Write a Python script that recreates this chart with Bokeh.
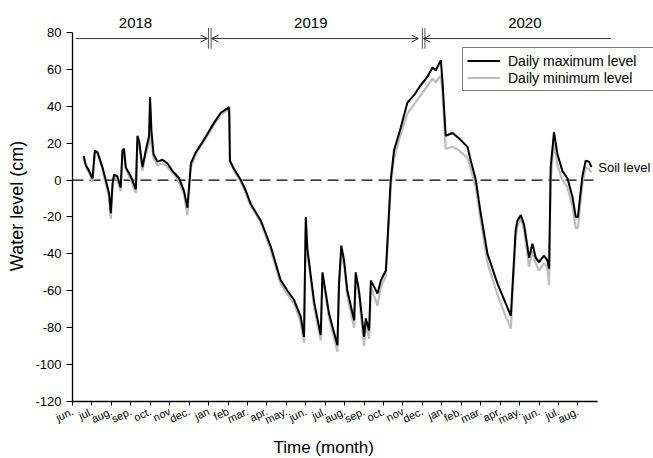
from bokeh.plotting import figure
from bokeh.models import Range1d, FixedTicker, Legend, LegendItem, Label, Arrow, OpenHead, Title
from bokeh.embed import file_html
from bokeh.resources import INLINE

# ---- data (time in months since 1 June 2018) ----
months = [0.57, 0.69, 0.85, 1.03, 1.15, 1.29, 1.54, 1.71, 1.88, 1.97, 2.06, 2.14, 2.31, 2.48,
          2.57, 2.65, 2.74, 3.0, 3.26, 3.34, 3.43, 3.6, 3.77, 3.94, 3.99, 4.06, 4.17, 4.37,
          4.63, 4.89, 5.14, 5.31, 5.48, 5.74, 5.91, 6.09, 6.34, 6.77, 7.28, 7.63, 8.06, 8.1,
          8.31, 8.66, 8.91, 9.17, 9.69, 10.2, 10.7, 11.06, 11.4, 11.74, 11.91, 12.0, 12.09,
          12.43, 12.77, 12.86, 13.2, 13.63, 13.71, 13.83, 13.97, 14.14, 14.49, 14.57, 14.74,
          15.0, 15.09, 15.26, 15.35, 15.69, 15.86, 16.12, 16.2, 16.37, 16.54, 16.89, 17.23,
          17.57, 17.92, 18.26, 18.52, 18.69, 18.95, 19.03, 19.2, 19.55, 19.89, 20.32, 20.49,
          20.75, 21.0, 21.35, 21.86, 22.29, 22.55, 22.8, 22.89, 23.06, 23.23, 23.49, 23.66,
          23.83, 24.0, 24.26, 24.43, 24.52, 24.6, 24.77, 24.95, 25.2, 25.46, 25.72, 25.89,
          26.0, 26.23, 26.4, 26.57, 26.7]

max_level = [13, 8, 5, 1, 16, 15, 7, 0, -7, -18, -2, 3, 2, -4,
             16, 17, 7, 2, -5, 24, 21, 7, 16, 24, 45, 27, 14, 10,
             11, 9, 5, 3, 1, -6, -15, 9, 15, 22, 31, 36.5, 39.5, 10.5,
             6, 0, -5.5, -13, -22, -36, -54, -60, -65, -74, -85, -20, -38,
             -66, -84, -50, -72.5, -89.5, -56, -35.5, -43.5, -60, -76, -50, -60,
             -85, -75, -81.5, -54.5, -61.5, -54.5, -49, -34, 0, 16, 28.5, 42,
             46, 51.5, 56, 61, 59.5, 65, 54, 24, 25.5, 22.5, 18, 10.5,
             0, -18, -40, -56, -67, -73.5, -27, -22, -19, -24, -42, -34.5,
             -42, -44.5, -41, -43.5, -48, 7, 26, 14, 5, 1, -9, -20,
             -20, 2, 10.5, 10, 7]

min_level = [12, 7, 4, -1, 15, 14, 6, -2, -9, -21, -4, 2, 0, -6,
             14, 15, 6, 0, -7, 21, 19, 5, 14, 20, 25, 20, 12, 8,
             9, 7, 4, 2, -1, -8, -19, 7, 14, 21, 30, 35.5, 38.5, 10,
             5, -1, -7, -14, -23, -38, -56, -62, -67, -77, -88, -28, -40,
             -69, -87, -52, -75, -93, -58, -40, -46, -63, -80, -53, -63,
             -90, -78, -86, -58, -68, -58, -52, -38, -4, 12, 25, 36,
             41, 46, 51, 55, 53, 57, 48, 17, 18, 16, 12, 6,
             -4, -22, -45, -62, -74, -80.5, -31, -25, -21, -27, -47, -38,
             -45, -49, -45, -47, -57, 0, 20, 8, 0, -4, -14, -26,
             -26, -2, 7, 6, 4]

month_labels = ["jun.", "jul.", "aug.", "sep.", "oct.", "nov", "dec.", "jan", "feb", "mar.",
                "apr.", "may.", "jun.", "jul.", "aug.", "sep.", "oct.", "nov", "dec.", "jan",
                "feb.", "mar.", "apr.", "may.", "jun.", "jul.", "aug."]
y_ticks = [-120, -100, -80, -60, -40, -20, 0, 20, 40, 60, 80]
year_labels = ["2018", "2019", "2020"]
year_centers = [3.24, 12.26, 23.27]
year_starts = [0.17, 7.15, 18.05]
year_ends = [6.95, 17.8, 27.7]
year_bounds = [7.0, 18.0]
soil_level = 0

FONT = "Liberation Sans"
n_months = len(month_labels)

p = figure(width=653, height=458, x_range=Range1d(0, 29.89), y_range=Range1d(-120, 91.9),
           output_backend="svg", toolbar_location=None,
           min_border_left=72, min_border_right=0, min_border_top=10, min_border_bottom=57)
p.outline_line_color = None
p.xgrid.visible = False
p.ygrid.visible = False
p.background_fill_color = "white"

# axes
xa = p.xaxis[0]
xa.bounds = (0, n_months)
xa.ticker = FixedTicker(ticks=list(range(n_months)))
xa.major_label_overrides = {i: lab for i, lab in enumerate(month_labels)}
xa.major_label_orientation = 0.44
xa.major_tick_in = 0
xa.major_tick_out = 4
xa.minor_tick_line_color = None
xa.major_label_text_font = FONT
xa.major_label_text_font_size = "11px"
xa.major_label_text_color = "black"
xa.major_label_standoff = 5
xa.axis_line_width = 1.3
xa.axis_line_color = "black"
xa.major_tick_line_color = "black"

ya = p.yaxis[0]
ya.bounds = (-120, 80)
ya.ticker = FixedTicker(ticks=y_ticks)
ya.major_label_overrides = {t: str(t) for t in y_ticks}
ya.major_tick_in = 0
ya.major_tick_out = 6
ya.minor_tick_line_color = None
ya.major_label_text_font = FONT
ya.major_label_text_font_size = "13px"
ya.major_label_text_color = "black"
ya.major_label_standoff = 5
ya.axis_label = "Water level (cm)"
ya.axis_label_text_font = FONT
ya.axis_label_text_font_size = "18px"
ya.axis_label_text_color = "black"
ya.axis_label_text_font_style = "normal"
ya.axis_label_standoff = 5
ya.axis_line_width = 1.3
ya.axis_line_color = "black"
ya.major_tick_line_color = "black"

# x-axis title, placed under the month axis
p.add_layout(Title(text="Time (month)", align="left", offset=201, text_font=FONT,
                   text_font_size="17px", text_font_style="normal", text_color="black",
                   standoff=2), "below")

# soil level dashed line
p.line([0, n_months], [soil_level, soil_level], line_color="black", line_width=1.3,
       line_dash="11 6")

# series
r_min = p.line(months, min_level, line_color="#bdbdbd", line_width=2.2)
r_max = p.line(months, max_level, line_color="black", line_width=2)

p.add_layout(Label(x=n_months + 0.05, y=soil_level + 6.8, text="Soil level", text_font=FONT,
                   text_font_size="13px", text_baseline="middle", text_align="left",
                   text_color="black"))

# year annotations
arrow_y = 76.7
for i, (lab, xc) in enumerate(zip(year_labels, year_centers)):
    p.add_layout(Label(x=xc, y=85.2, text=lab, text_font=FONT, text_font_size="15px",
                       text_align="center", text_baseline="middle", text_color="black"))
    start_head = OpenHead(size=7, line_width=1, line_color="#333333") if i > 0 else None
    end_head = OpenHead(size=7, line_width=1, line_color="#333333") if i < 2 else None
    p.add_layout(Arrow(x_start=year_starts[i], y_start=arrow_y, x_end=year_ends[i], y_end=arrow_y,
                       start=start_head, end=end_head, line_width=1, line_color="#333333"))
for b in year_bounds:
    p.segment(x0=[b, b + 0.13], y0=[71.2, 71.2], x1=[b, b + 0.13], y1=[82.4, 82.4],
              line_color="#555555", line_width=1)

legend = Legend(items=[LegendItem(label="Daily maximum level", renderers=[r_max]),
                       LegendItem(label="Daily minimum level", renderers=[r_min])],
                location=(390, 310), border_line_color="black", border_line_width=1,
                label_text_font=FONT, label_text_font_size="14px", label_text_color="black",
                glyph_width=33, glyph_height=17, label_height=17, label_width=141, spacing=0,
                padding=4, margin=0, label_standoff=8, background_fill_alpha=1)
p.add_layout(legend)

open("out.html", "w").write(file_html(p, INLINE))
